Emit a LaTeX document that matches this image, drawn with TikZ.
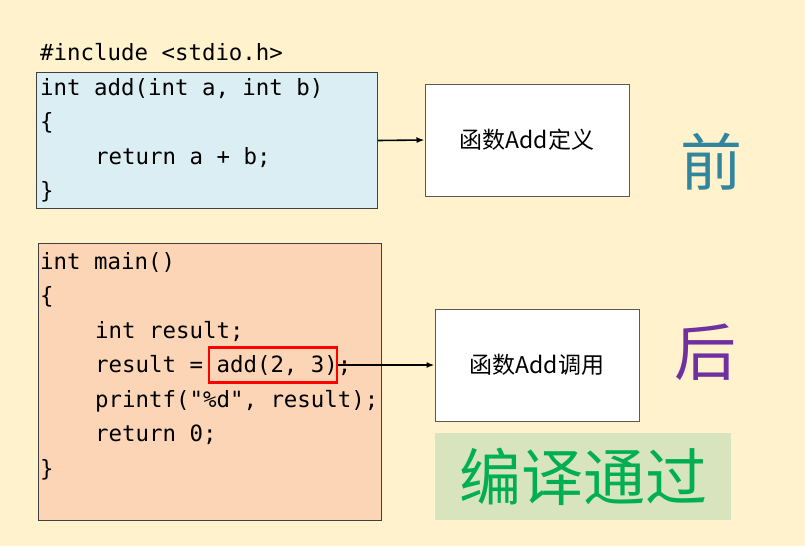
\documentclass[tikz,border=0pt]{standalone}
\usepackage{fontspec}
\setmonofont{DejaVu Sans Mono}
\newfontfamily\cjk{Noto Sans CJK SC}
\usetikzlibrary{positioning, arrows.meta}
\definecolor{paper}{HTML}{FFF2CC}
\definecolor{defblue}{HTML}{DAEEF3}
\definecolor{mainpeach}{HTML}{FBD5B5}
\definecolor{passgreen}{HTML}{D7E4BD}
\definecolor{passtext}{HTML}{00B050}
\definecolor{beforeteal}{HTML}{31859C}
\definecolor{afterpurple}{HTML}{7030A0}
\begin{document}
\begin{tikzpicture}[
    x=1pt, y=-1pt,
    codebox/.style={rectangle, draw=black!75, line width=1pt, anchor=north west, inner sep=0pt},
    code/.style={anchor=base west, inner sep=0pt, font=\ttfamily\fontsize{22.4}{26}\selectfont},
    namebox/.style={rectangle, draw=black!65, line width=1pt, fill=white, minimum width=204pt, minimum height=112pt, font=\cjk\fontsize{23}{27}\selectfont},
    callbox/.style={rectangle, draw=red, line width=2.2pt, minimum width=128pt, minimum height=35pt, inner sep=0pt},
    bigchar/.style={inner sep=0pt, font=\cjk\fontsize{62}{70}\selectfont},
    arrow/.style={-{Latex[length=8pt, width=6pt]}, line width=1.6pt}
]
    \useasboundingbox[fill=paper] (0,0) rectangle (805,546);

    % function definition
    \node [code] (inc) at (40,60) {\#include <stdio.h>};
    \node [codebox, fill=defblue, minimum width=341pt, minimum height=136pt] (defcode) at (36,72) {};
    \node [code] (d1) at (40,95) {int add(int a, int b)};
    \node [code] (d2) at (40,129.5) {\{};
    \node [code] (d3) at (95,164) {return a + b;};
    \node [code] (d4) at (40,198.5) {\}};

    % main function
    \node [codebox, fill=mainpeach, minimum width=343pt, minimum height=277pt] (maincode) at (38,243) {};
    \node [code] (m1) at (40,269) {int main()};
    \node [code] (m2) at (40,303.5) {\{};
    \node [code] (m3) at (95,338) {int result;};
    \node [code] (m4) at (95,372.5) {result = add(2, 3);};
    \node [code] (m5) at (95,407) {printf("\%d", result);};
    \node [code] (m6) at (95,441.5) {return 0;};
    \node [code] (m7) at (40,476) {\}};
    \node [callbox] (call) at (273,365) {};

    % right side
    \node [namebox] (deflabel) at (527,140) {函数Add定义};
    \node [namebox] (uselabel) at (537,365) {函数Add调用};
    \node [bigchar, text=beforeteal] (before) at (711,162) {前};
    \node [bigchar, text=afterpurple] (after) at (705.5,352.5) {后};
    \node [rectangle, fill=passgreen, minimum width=296pt, minimum height=87pt, font=\cjk\fontsize{62}{70}\selectfont, text=passtext] (pass) at (583,476.5) {编译通过};

    \draw [arrow] (defcode.east) -- (deflabel.west);
    \draw [arrow] (call.east) -- (uselabel.west);

\end{tikzpicture}
\end{document}
